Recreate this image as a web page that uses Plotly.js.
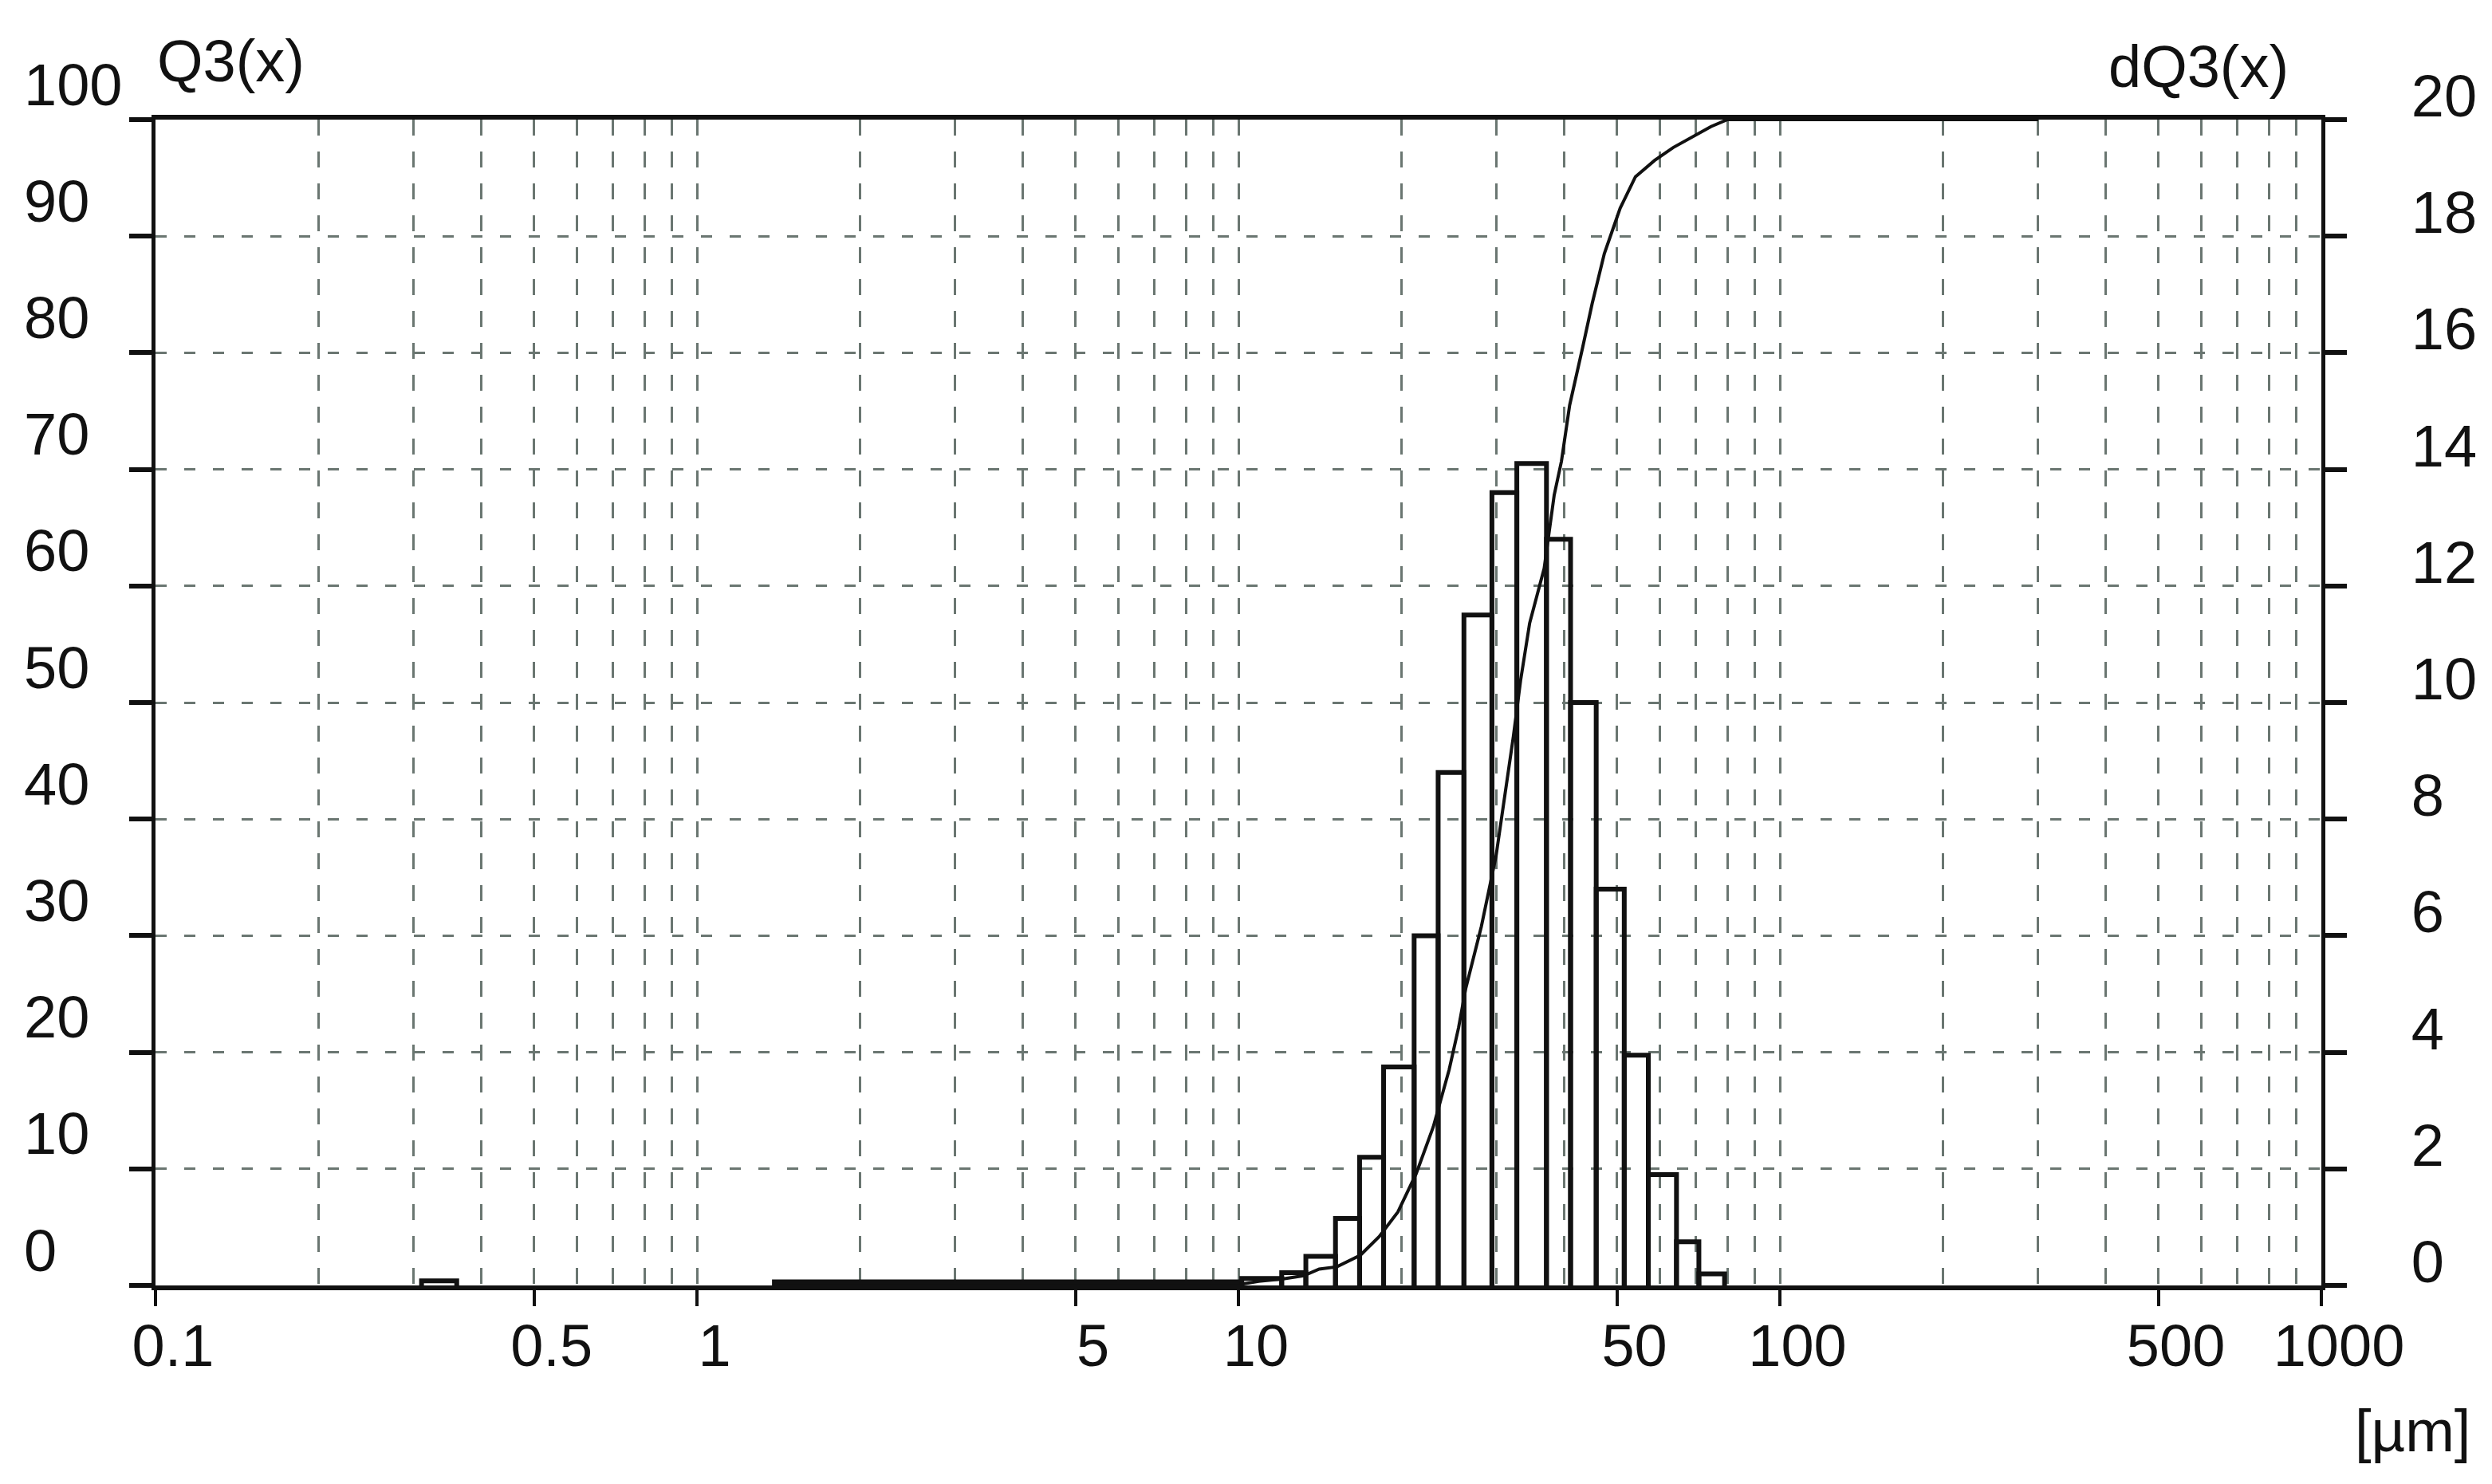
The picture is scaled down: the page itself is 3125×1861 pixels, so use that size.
<!DOCTYPE html>
<html>
<head>
<meta charset="utf-8">
<script src="https://cdn.plot.ly/plotly-3.0.1.min.js"></script>
<style>
  html, body { margin: 0; padding: 0; background: #ffffff; }
  #chart { width: 3125px; height: 1861px; }
</style>
</head>
<body>
<div id="chart"></div>
<script>
// ---- Data ----
// Histogram classes (µm) and dQ3 values (right axis, %)
const binLower = [0.31, 1.39, 10.14, 12.02, 13.32, 15.11, 16.74, 18.54, 21.11, 23.38, 26.09, 29.39, 32.67, 37.06, 41.06, 45.79, 51.59, 57.15, 64.42, 70.86];
const binUpper = [0.36, 10.14, 12.02, 13.32, 15.11, 16.74, 18.54, 21.11, 23.38, 26.09, 29.39, 32.67, 37.06, 41.06, 45.79, 51.59, 57.15, 64.42, 70.86, 79.04];
const dQ3 = [0.08, 0.06, 0.12, 0.22, 0.5, 1.15, 2.2, 3.75, 6.0, 8.8, 11.5, 13.6, 14.1, 12.8, 10.0, 6.8, 3.95, 1.9, 0.75, 0.2];

// Cumulative curve Q3(x) (left axis, %)
const q3Size = [1.4, 10.1, 10.9, 12.1, 13.2, 14.1, 15.2, 16.8, 18.2, 19.7, 21.3, 22.9, 24.5, 25.5, 26.3, 28.1, 29.9, 31.0, 32.2, 33.2, 34.5, 36.7, 38.3, 39.5, 40.9, 43.2, 45.0, 47.4, 50.7, 54.1, 58.7, 63.5, 70.6, 74.6, 80, 300];
const q3Value = [0, 0.1, 0.35, 0.56, 0.84, 1.4, 1.6, 2.6, 4.2, 6.3, 9.6, 13.6, 18.5, 22.1, 25.5, 30.8, 36.8, 41.8, 47.1, 51.9, 56.8, 61.5, 67.8, 70.7, 75.5, 80.4, 84.2, 88.5, 92.4, 95.1, 96.5, 97.6, 98.8, 99.4, 100, 100];

// Axis ticks
const xTickVals = [0.1, 0.5, 1, 5, 10, 50, 100, 500, 1000];
const xTickText = ['0.1', '0.5', '1', '5', '10', '50', '100', '500', '1000'];
const xMinorVals = [0.2, 0.3, 0.4, 0.6, 0.7, 0.8, 0.9, 2, 3, 4, 6, 7, 8, 9, 20, 30, 40, 60, 70, 80, 90, 200, 300, 400, 600, 700, 800, 900];
const q3Ticks = [0, 10, 20, 30, 40, 50, 60, 70, 80, 90, 100];
const q3TickText = ['0', '10', '20', '30', '40', '50', '60', '70', '80', '90', '100'];
const dq3Ticks = [0, 2, 4, 6, 8, 10, 12, 14, 16, 18, 20];
const dq3TickText = ['0', '2', '4', '6', '8', '10', '12', '14', '16', '18', '20'];

// ---- Styling ----
const FONT = '"Liberation Sans", Arial, sans-serif';
const INK = '#111111';
const GRID = '#6a7671';
const FS = 74;

// Build outlined histogram rectangles from the class arrays
const histX = [], histY = [];
for (let i = 0; i < dQ3.length; i++) {
  histX.push(binLower[i], binLower[i], binUpper[i], binUpper[i], null);
  histY.push(0, dQ3[i], dQ3[i], 0, null);
}

const traces = [
  {
    type: 'scatter', mode: 'lines',
    x: histX, y: histY, yaxis: 'y2',
    line: { color: INK, width: 6 },
    connectgaps: false, hoverinfo: 'skip'
  },
  {
    type: 'scatter', mode: 'lines',
    x: q3Size, y: q3Value, yaxis: 'y',
    line: { color: INK, width: 4 },
    hoverinfo: 'skip'
  }
];

const L = 195, R = 2911, T = 150, B = 1612;
const PW = R - L, PH = B - T;
const px2paperX = (p) => (p - L) / PW;
const px2paperY = (p) => (B - p) / PH;

const annotations = [];
for (let i = 0; i < q3Ticks.length; i++) {
  annotations.push({
    xref: 'paper', yref: 'y', x: px2paperX(28), y: q3Ticks[i],
    xanchor: 'left', yanchor: 'middle', yshift: 44,
    text: q3TickText[i], showarrow: false,
    font: { family: FONT, size: FS, color: INK }
  });
}
annotations.push(
  { xref: 'paper', yref: 'paper', x: px2paperX(195), y: px2paperY(76), xanchor: 'left', yanchor: 'middle',
    text: 'Q3(x)', showarrow: false, font: { family: FONT, size: FS, color: INK } },
  { xref: 'paper', yref: 'paper', x: px2paperX(2872), y: px2paperY(84), xanchor: 'right', yanchor: 'middle',
    text: 'dQ3(x)', showarrow: false, font: { family: FONT, size: FS, color: INK } },
  { xref: 'paper', yref: 'paper', x: px2paperX(3100), y: px2paperY(1794), xanchor: 'right', yanchor: 'middle',
    text: '[µm]', showarrow: false, font: { family: FONT, size: FS, color: INK } }
);

const layout = {
  width: 3125, height: 1861,
  margin: { l: L, r: 3125 - R, t: T, b: 1861 - B, pad: 0 },
  paper_bgcolor: '#ffffff', plot_bgcolor: '#ffffff',
  showlegend: false,
  font: { family: FONT, size: FS, color: INK },
  xaxis: {
    type: 'log', range: [-1, 3],
    tickmode: 'array', tickvals: xTickVals, ticktext: xTickText,
    ticks: 'outside', ticklen: 20, tickwidth: 4, tickcolor: INK,
    ticklabelshift: 22, ticklabelstandoff: -14,
    tickfont: { family: FONT, size: FS, color: INK },
    showline: true, linewidth: 6, linecolor: INK, mirror: true,
    showgrid: true, gridcolor: GRID, gridwidth: 3, griddash: '20px,20px',
    minor: { tickmode: 'array', tickvals: xMinorVals, ticks: '', showgrid: true,
             gridcolor: GRID, gridwidth: 3, griddash: '20px,20px' },
    zeroline: false, fixedrange: true
  },
  yaxis: {
    range: [0, 100], tickmode: 'array', tickvals: q3Ticks, showticklabels: false,
    ticks: 'outside', ticklen: 28, tickwidth: 6, tickcolor: INK,
    showline: true, linewidth: 5, linecolor: INK,
    showgrid: true, gridcolor: GRID, gridwidth: 3, griddash: '14px,22px',
    zeroline: false, fixedrange: true
  },
  yaxis2: {
    overlaying: 'y', side: 'right', range: [0, 20],
    tickmode: 'array', tickvals: dq3Ticks, ticktext: dq3TickText,
    ticks: 'outside', ticklen: 27, tickwidth: 6, tickcolor: INK,
    ticklabelstandoff: 66, ticklabelshift: -30,
    tickfont: { family: FONT, size: FS, color: INK },
    showline: true, linewidth: 5, linecolor: INK,
    showgrid: false, zeroline: false, fixedrange: true
  },
  annotations: annotations
};

Plotly.newPlot('chart', traces, layout, { staticPlot: true, displayModeBar: false });
</script>
</body>
</html>
